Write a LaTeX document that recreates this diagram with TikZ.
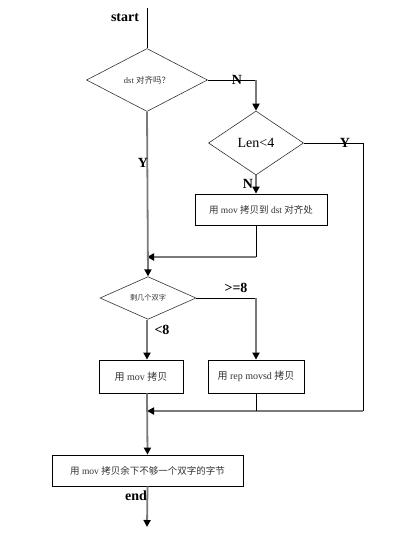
\documentclass[tikz,border=0pt]{standalone}
\usepackage{fontspec}
\setmainfont{Liberation Serif}
\newfontfamily\cjk{Noto Sans CJK SC}
\usetikzlibrary{shapes.geometric,arrows.meta}
\newcommand\zh[1]{{\cjk #1}}
\definecolor{lngray}{HTML}{7A7A7A}
\tikzset{
  thinln/.style={draw=black,line width=0.7pt},
  thickln/.style={draw=lngray,line width=1.8pt},
  arr/.style={thickln,-{Triangle[length=7pt,width=7pt,color=black]}},
  decision/.style={diamond,draw=black!80,line width=0.6pt,inner sep=0pt,text=black!80},
  procbox/.style={rectangle,draw=black,line width=0.8pt,inner sep=0pt,text=black!80},
  lbl/.style={font=\bfseries\fontsize{14}{14}\selectfont,inner sep=0pt},
}
\begin{document}
\begin{tikzpicture}[x=1pt,y=-1pt]
\useasboundingbox (0,0) rectangle (405,538);
% nodes
\coordinate (top) at (147,8);
\node[decision,minimum width=121pt,minimum height=63pt,font=\fontsize{8.5}{9}\selectfont] (d1) at (147,80) {dst \zh{对齐吗？}};
\node[decision,minimum width=95pt,minimum height=64pt,font=\fontsize{14}{14}\selectfont,text=black] (d2) at (256,143) {Len<4};
\node[procbox,minimum width=132pt,minimum height=31pt,font=\fontsize{9.5}{10}\selectfont] (b1) at (261,209.5) {\zh{用} mov \zh{拷贝到} dst \zh{对齐处}};
\node[decision,minimum width=96pt,minimum height=41pt,font=\fontsize{7.2}{8}\selectfont] (d3) at (148,298) {\zh{剩几个双字}};
\node[procbox,minimum width=84pt,minimum height=33pt,font=\fontsize{10}{10}\selectfont] (b2) at (141,376.5) {\zh{用} mov \zh{拷贝}};
\node[procbox,minimum width=96pt,minimum height=33pt,font=\fontsize{10}{10}\selectfont] (b3) at (256,376.5) {\zh{用} rep movsd \zh{拷贝}};
\node[procbox,minimum width=191pt,minimum height=31pt,font=\fontsize{9.5}{10}\selectfont] (b4) at (147.5,470.5) {\zh{用} mov \zh{拷贝余下不够一个双字的字节}};
\coordinate (c1) at (256,80);
\coordinate (c2) at (363,143);
\coordinate (c3) at (363,411);
\coordinate (j2) at (147,411);
\coordinate (c4) at (256,257);
\coordinate (j1) at (147,257);
\coordinate (c5) at (256,298);
\coordinate (bot) at (147,527);
% connectors
\draw[thinln] (top) -- (d1.north);
\draw[thinln] (d1.east) -- (c1);
\draw[arr] (c1) -- (d2.north);
\draw[thinln] (d2.east) -- (c2) -- (c3);
\draw[arr] (c3) -- (j2);
\draw[arr] (d2.south) -- (d2.south |- b1.north);
\draw[thinln] (d2.south |- b1.south) -- (c4);
\draw[arr] (c4) -- (j1);
\draw[arr] (d1.south) -- (d3.north);
\draw[thinln] (d3.east) -- (c5);
\draw[arr] (c5) -- (b3.north);
\draw[arr] (j2 |- d3.south) -- (j2 |- b2.north);
\draw[thinln] (b3.south) -- (b3.south |- j2);
\draw[arr] (j2 |- b2.south) -- (b4.north);
\draw[arr] (b4.south) -- (bot);
% labels
\node[lbl] (lstart) at (125,18) {start};
\node[lbl] (lN1) at (237,80) {N};
\node[lbl] (lY1) at (345,143) {Y};
\node[lbl] (lN2) at (248,184) {N};
\node[lbl] (lY2) at (143,163) {Y};
\node[lbl] (lge) at (236,288) {>=8};
\node[lbl] (llt) at (162,330) {<8};
\node[lbl] (lend) at (136,496) {end};
\end{tikzpicture}
\end{document}
